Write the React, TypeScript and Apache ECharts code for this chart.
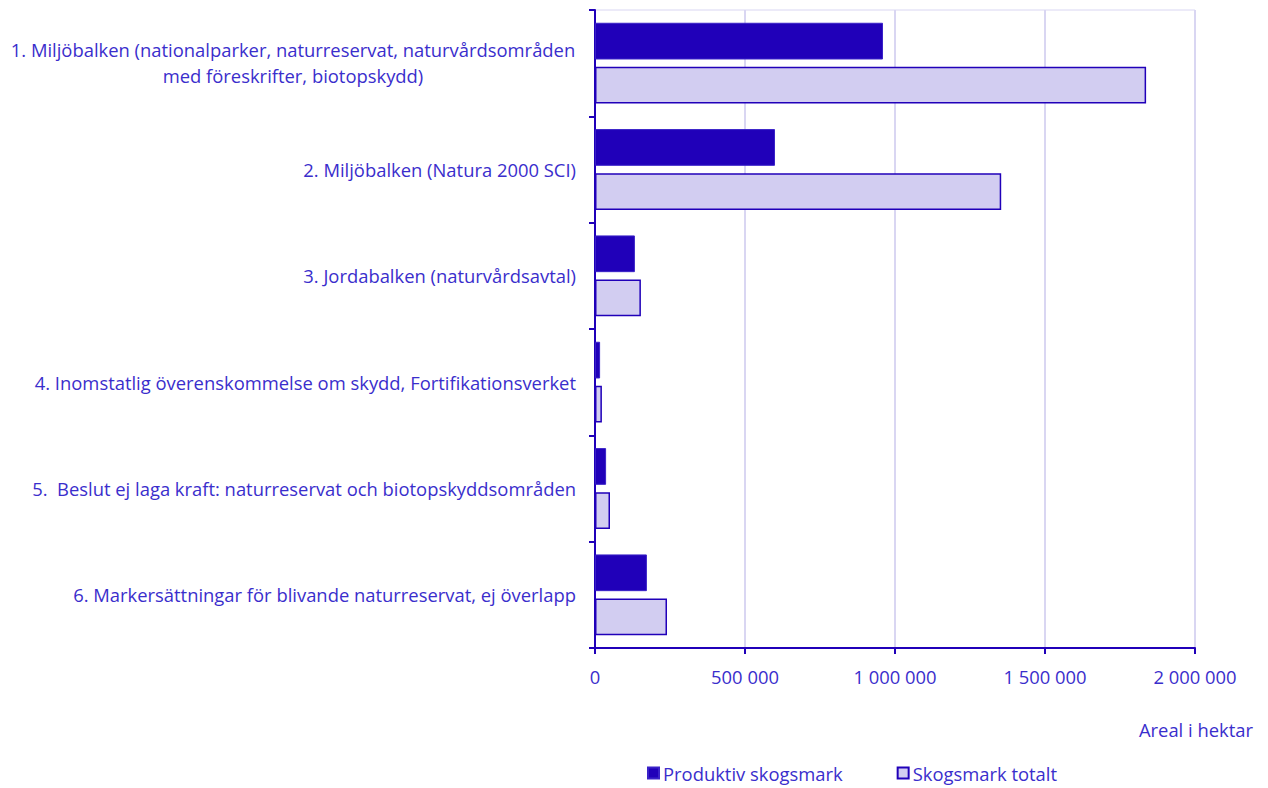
import React, { useEffect, useRef } from "react";
import * as echarts from "echarts";

const categories = [
  "1. Miljöbalken (nationalparker, naturreservat, naturvårdsområden\nmed föreskrifter, biotopskydd)",
  "2. Miljöbalken (Natura 2000 SCI)",
  "3. Jordabalken (naturvårdsavtal)",
  "4. Inomstatlig överenskommelse om skydd, Fortifikationsverket",
  "5.  Beslut ej laga kraft: naturreservat och biotopskyddsområden",
  "6. Markersättningar för blivande naturreservat, ej överlapp",
];
const produktiv = [960000, 600000, 133000, 17000, 37000, 173000];
const totalt = [1837000, 1354000, 153000, 23000, 50000, 240000];
const seriesNames = ["Produktiv skogsmark", "Skogsmark totalt"];
const xTicks = { min: 0, max: 2000000, interval: 500000 };
const axisTitle = "Areal i hektar";

const DARK = "#2000B9";
const LIGHT = "#D2CDF1";
const TEXT = "#3A2ECC";
const GRID = "#D9D6F2";
const FONT = "'Open Sans', 'Noto Sans', sans-serif";
const FS = 18.4;

function fmt(v: number) {
  return String(v).replace(/\B(?=(\d{3})+(?!\d))/g, " ");
}

export default function App() {
  const ref = useRef<HTMLDivElement>(null);
  useEffect(() => {
    if (!ref.current) return;
    const chart = echarts.init(ref.current, undefined, { renderer: "svg" });
    chart.setOption({
      animation: false,
      textStyle: { fontFamily: FONT },
      grid: {
        left: 595,
        right: 73,
        top: 10,
        bottom: 140,
        show: true,
        borderColor: GRID,
        borderWidth: 1,
      },
      title: {
        text: axisTitle,
        right: 10,
        top: 715,
        textStyle: { color: TEXT, fontSize: FS, fontWeight: "normal", fontFamily: FONT },
      },
      legend: {
        left: 642,
        top: 759,
        itemWidth: 11,
        itemHeight: 11,
        itemGap: 54,
        icon: "rect",
        textStyle: { color: TEXT, fontSize: FS, fontFamily: FONT, padding: [0, 0, 0, -1] },
        data: seriesNames,
      },
      xAxis: {
        type: "value",
        min: xTicks.min,
        max: xTicks.max,
        interval: xTicks.interval,
        axisLine: { show: true, lineStyle: { color: DARK, width: 2 } },
        axisTick: { show: true, length: 6, lineStyle: { color: DARK, width: 2 } },
        axisLabel: {
          color: TEXT,
          fontSize: FS,
          margin: 19,
          fontFamily: FONT,
          formatter: (v: number) => fmt(v),
        },
        splitLine: { show: true, lineStyle: { color: GRID, width: 2 } },
      },
      yAxis: {
        type: "category",
        inverse: true,
        data: categories,
        axisLine: { show: true, lineStyle: { color: DARK, width: 2 } },
        axisTick: { show: true, length: 6, lineStyle: { color: DARK, width: 2 } },
        axisLabel: {
          color: TEXT,
          fontSize: FS,
          margin: 19,
          lineHeight: 27,
          fontFamily: FONT,
          formatter: (v: string) => {
            if (v.indexOf("\n") >= 0) {
              const parts = v.split("\n");
              return parts
                .map((s, i) => (i === parts.length - 1 ? "{d|" + s + "}" : "{c|" + s + "}"))
                .join("\n");
            }
            return v;
          },
          rich: {
            c: {
              width: 566,
              align: "center",
              color: TEXT,
              fontSize: FS,
              lineHeight: 27,
              fontFamily: FONT,
            },
            d: {
              width: 566,
              align: "center",
              color: TEXT,
              fontSize: FS,
              lineHeight: 27,
              fontFamily: FONT,
              padding: [0, 0, 3, 0],
            },
          },
        },
        splitLine: { show: false },
      },
      series: [
        {
          name: seriesNames[0],
          type: "bar",
          data: produktiv,
          barCategoryGap: "24%",
          barGap: "20%",
          itemStyle: { color: DARK, borderColor: "#3A22C8", borderWidth: 1 },
        },
        {
          name: seriesNames[1],
          type: "bar",
          data: totalt,
          barCategoryGap: "24%",
          barGap: "20%",
          itemStyle: { color: LIGHT, borderColor: DARK, borderWidth: 1.5 },
        },
      ],
    });
    return () => chart.dispose();
  }, []);
  return (
    <div
      ref={ref}
      style={{ position: "absolute", left: 0, top: 0, width: 1268, height: 788 }}
    />
  );
}
